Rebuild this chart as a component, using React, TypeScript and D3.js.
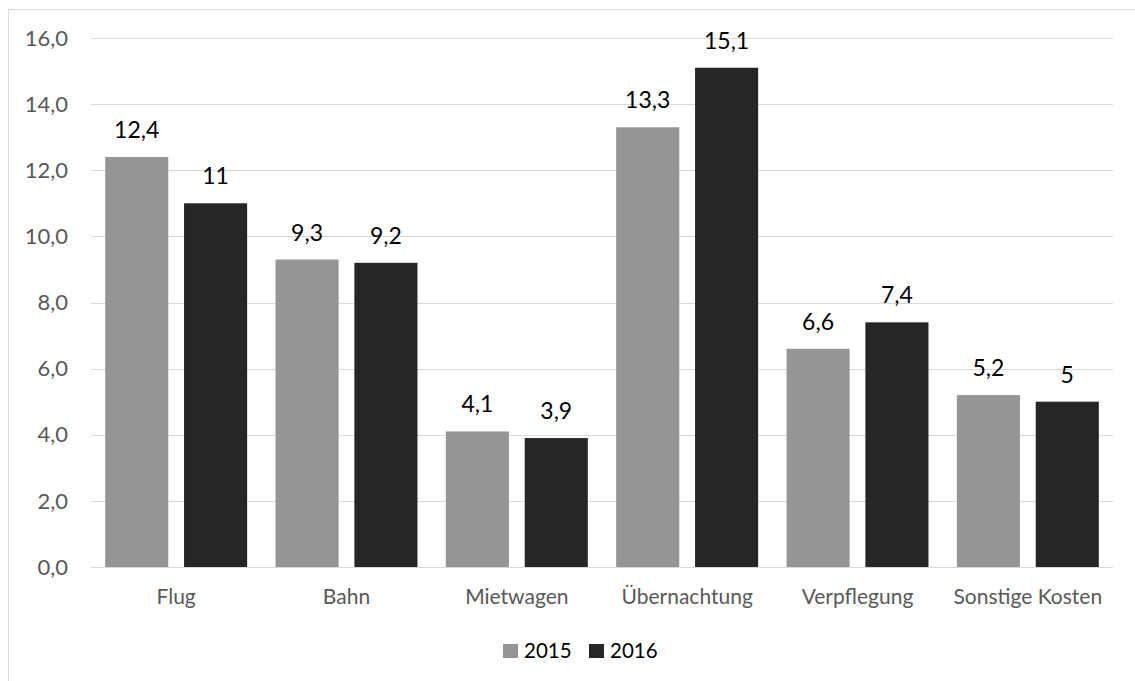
import React, { useEffect, useRef } from 'react';
import * as d3 from 'd3';

const categories = ['Flug', 'Bahn', 'Mietwagen', 'Übernachtung', 'Verpflegung', 'Sonstige Kosten'];
const series = ['2015', '2016'];
const values2015 = [12.4, 9.3, 4.1, 13.3, 6.6, 5.2];
const values2016 = [11, 9.2, 3.9, 15.1, 7.4, 5];
const yTicks = [0, 2, 4, 6, 8, 10, 12, 14, 16];

const width = 1135;
const height = 681;
const margin = { top: 38, right: 22, bottom: 114, left: 91 };
const colors = ['#959595', '#262626'];
const font = 'Lato, "Open Sans", sans-serif';

const fmt = (v: number) => String(v).replace('.', ',');

const App = () => {
  const ref = useRef<SVGSVGElement>(null);

  useEffect(() => {
    const svg = d3.select(ref.current);
    svg.selectAll('*').remove();

    // chart border (right/bottom edges are cropped off)
    svg.append('rect')
      .attr('x', 8.5).attr('y', 9.5)
      .attr('width', width + 20).attr('height', height + 20)
      .attr('fill', 'none').attr('stroke', '#d9d9d9');

    const x0 = d3.scaleBand().domain(categories)
      .range([margin.left, width - margin.right]);
    const x1 = d3.scaleBand().domain(series)
      .range([0, x0.bandwidth()]).paddingInner(0.2).paddingOuter(0.18);
    const y = d3.scaleLinear().domain([0, 16])
      .range([height - margin.bottom, margin.top]);

    const grid = svg.append('g');
    yTicks.forEach(t => {
      grid.append('line')
        .attr('x1', margin.left).attr('x2', width - margin.right)
        .attr('y1', Math.round(y(t)) + 0.5).attr('y2', Math.round(y(t)) + 0.5)
        .attr('stroke', '#d9d9d9').attr('stroke-width', 1);
      grid.append('text')
        .attr('x', 68).attr('y', y(t)).attr('dy', '0.35em')
        .attr('text-anchor', 'end')
        .attr('font-family', font).attr('font-size', 22).attr('fill', '#595959')
        .text(d3.format('.1f')(t).replace('.', ','));
    });

    const data = [values2015, values2016];
    series.forEach((s, si) => {
      const g = svg.append('g');
      categories.forEach((c, ci) => {
        const v = data[si][ci];
        const bx = x0(c)! + x1(s)!;
        g.append('rect')
          .attr('x', bx).attr('y', y(v))
          .attr('width', x1.bandwidth()).attr('height', y(0) - y(v))
          .attr('fill', colors[si]);
        g.append('text')
          .attr('x', bx + x1.bandwidth() / 2).attr('y', y(v) - 19)
          .attr('text-anchor', 'middle')
          .attr('font-family', font).attr('font-size', 23).attr('fill', '#000')
          .text(fmt(v));
      });
    });

    categories.forEach(c => {
      svg.append('text')
        .attr('x', x0(c)! + x0.bandwidth() / 2).attr('y', 604)
        .attr('text-anchor', 'middle')
        .attr('font-family', font).attr('font-size', 21).attr('fill', '#595959')
        .text(c);
    });

    // legend
    const legendX = [503, 589];
    series.forEach((s, si) => {
      svg.append('rect')
        .attr('x', legendX[si]).attr('y', 644)
        .attr('width', 15).attr('height', 14)
        .attr('fill', colors[si]);
      svg.append('text')
        .attr('x', legendX[si] + 21).attr('y', 658)
        .attr('font-family', font).attr('font-size', 20.5).attr('fill', '#000')
        .text(s);
    });
  }, []);

  return (
    <div style={{ position: 'fixed', left: 0, top: 0, background: '#fff' }}>
      <svg ref={ref} width={width} height={height} style={{ display: 'block' }} />
    </div>
  );
};

export default App;
